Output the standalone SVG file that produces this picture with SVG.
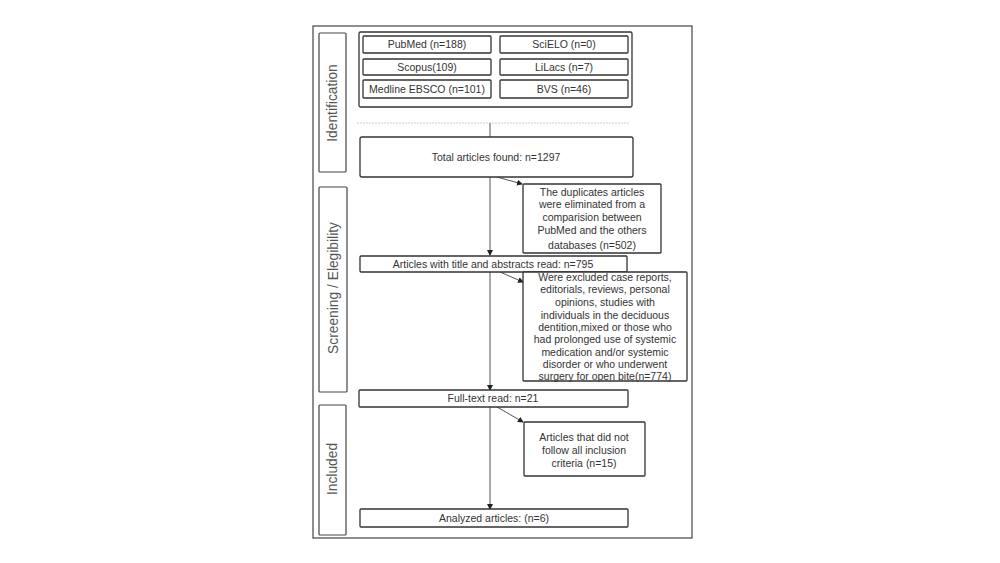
<svg xmlns="http://www.w3.org/2000/svg" width="1000" height="563" viewBox="0 0 1000 563">
<defs>
<marker id="ah" markerWidth="6" markerHeight="6" refX="5" refY="3" orient="auto" markerUnits="userSpaceOnUse">
<path d="M0,0 L6,3 L0,6 z" fill="#222"/>
</marker>
<style>
.box{fill:#fff;stroke:#333;stroke-width:1.3}
.lbl{fill:#fff;stroke:#444;stroke-width:1.2}
.t{font-family:"Liberation Sans",Arial,sans-serif;font-size:10.5px;fill:#333;text-anchor:middle}
.side{font-family:"Liberation Sans",Arial,sans-serif;font-size:13.8px;fill:#555;text-anchor:middle}
.ln{stroke:#555;stroke-width:1;fill:none}
</style>
</defs>
<rect width="1000" height="563" fill="#fff"/>
<rect x="313" y="26" width="379" height="512" fill="none" stroke="#444" stroke-width="1.2"/>

<g id="label-identification">
<rect class="lbl" x="319" y="33" width="27" height="139" rx="1"/>
<text class="side" transform="translate(337,103) rotate(-90)">Identification</text>
</g>
<g id="label-screening">
<rect class="lbl" x="319" y="187" width="28" height="205" rx="1"/>
<text class="side" transform="translate(338,288) rotate(-90)">Screening / Elegibility</text>
</g>
<g id="label-included">
<rect class="lbl" x="319" y="405" width="27" height="130" rx="1"/>
<text class="side" transform="translate(337,469) rotate(-90)">Included</text>
</g>

<g id="sources">
<rect class="box" x="359" y="32" width="273" height="75" rx="1.5"/>
<g id="pubmed"><rect class="box" x="363" y="36" width="128" height="17" rx="1"/><text class="t" x="427" y="48">PubMed (n=188)</text></g>
<g id="scielo"><rect class="box" x="500" y="36" width="128" height="17" rx="1"/><text class="t" x="564" y="48">SciELO (n=0)</text></g>
<g id="scopus"><rect class="box" x="363" y="59" width="128" height="16" rx="1"/><text class="t" x="427" y="71">Scopus(109)</text></g>
<g id="lilacs"><rect class="box" x="500" y="59" width="128" height="16" rx="1"/><text class="t" x="564" y="71">LiLacs (n=7)</text></g>
<g id="medline"><rect class="box" x="363" y="80" width="128" height="18" rx="1"/><text class="t" x="427" y="93">Medline EBSCO (n=101)</text></g>
<g id="bvs"><rect class="box" x="500" y="80" width="128" height="18" rx="1"/><text class="t" x="564" y="93">BVS (n=46)</text></g>
</g>

<g id="connectors">
<line x1="357" y1="123" x2="630" y2="123" stroke="#ccc" stroke-width="1" stroke-dasharray="2,1"/>
<line class="ln" x1="490" y1="123" x2="490" y2="137"/>
<line class="ln" x1="490" y1="177" x2="490" y2="255" marker-end="url(#ah)"/>
<line class="ln" x1="497" y1="177" x2="522" y2="184" marker-end="url(#ah)"/>
<line class="ln" x1="490" y1="272" x2="490" y2="390" marker-end="url(#ah)"/>
<line class="ln" x1="500" y1="272" x2="523" y2="282" marker-end="url(#ah)"/>
<line class="ln" x1="490" y1="407" x2="490" y2="509" marker-end="url(#ah)"/>
<line class="ln" x1="497" y1="407" x2="523" y2="422" marker-end="url(#ah)"/>
</g>

<g id="total">
<rect class="box" x="360" y="137" width="273" height="40" rx="2"/>
<text class="t" x="496" y="161">Total articles found: n=1297</text>
</g>

<g id="duplicates">
<rect class="box" x="523" y="184" width="138" height="69" rx="1"/>
<text class="t" x="592" y="196">The duplicates articles</text>
<text class="t" x="592" y="208">were eliminated from a</text>
<text class="t" x="592" y="221">comparision between</text>
<text class="t" x="592" y="234">PubMed  and the others</text>
<text class="t" x="592" y="249">databases (n=502)</text>
</g>

<g id="title-abstract">
<rect class="box" x="360" y="256" width="267" height="16" rx="1"/>
<text class="t" x="493" y="268">Articles with title and abstracts read: n=795</text>
</g>

<g id="excluded">
<rect class="box" x="523" y="272" width="164" height="109" rx="1"/>
<text class="t" x="605" y="281">Were excluded case reports,</text>
<text class="t" x="605" y="293">editorials, reviews, personal</text>
<text class="t" x="605" y="306">opinions, studies with</text>
<text class="t" x="605" y="319">individuals  in the deciduous</text>
<text class="t" x="605" y="331">dentition,mixed or those who</text>
<text class="t" x="605" y="343">had prolonged use of systemic</text>
<text class="t" x="605" y="356">medication and/or systemic</text>
<text class="t" x="605" y="368">disorder or who underwent</text>
<text class="t" x="605" y="380">surgery  for open bite(n=774)</text>
</g>

<g id="fulltext">
<rect class="box" x="359" y="390" width="269" height="17" rx="1"/>
<text class="t" x="493" y="402">Full-text read: n=21</text>
</g>

<g id="not-inclusion">
<rect class="box" x="524" y="422" width="121" height="54" rx="1"/>
<text class="t" x="584" y="441">Articles that did not</text>
<text class="t" x="584" y="454">follow all inclusion</text>
<text class="t" x="584" y="467">criteria (n=15)</text>
</g>

<g id="analyzed">
<rect class="box" x="360" y="509" width="268" height="18" rx="1"/>
<text class="t" x="494" y="522">Analyzed articles: (n=6)</text>
</g>
</svg>
